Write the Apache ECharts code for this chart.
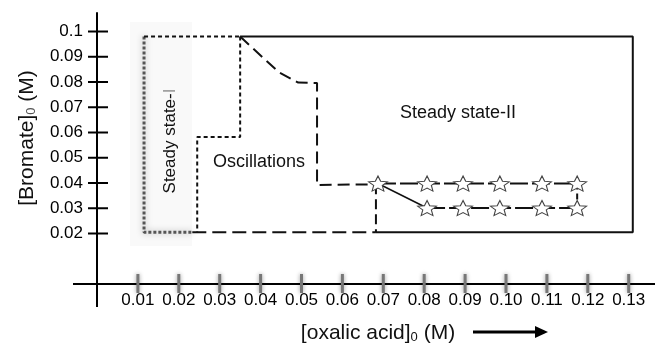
<!DOCTYPE html>
<html>
<head>
<meta charset="utf-8">
<script src="https://cdn.jsdelivr.net/npm/echarts@6/dist/echarts.min.js"></script>
<style>
  html, body { margin: 0; padding: 0; background: #fff; }
  #chart { width: 655px; height: 344px; }
</style>
</head>
<body>
<div id="chart"></div>
<script>
// tick values
const xTicks = [0.01, 0.02, 0.03, 0.04, 0.05, 0.06, 0.07, 0.08, 0.09, 0.10, 0.11, 0.12, 0.13];
const yTicks = [0.02, 0.03, 0.04, 0.05, 0.06, 0.07, 0.08, 0.09, 0.1];

// phase boundaries [oxalic acid, bromate]
const steadyILeft = [[0.0115, 0.098], [0.0115, 0.0205], [0.0233, 0.0205]];
const topDotted = [[0.0115, 0.098], [0.035, 0.098]];
const oscStep = [[0.035, 0.098], [0.035, 0.0582], [0.0245, 0.0582], [0.0245, 0.0205]];
const steadyIIEdge = [[0.035, 0.098], [0.0445, 0.0838], [0.0492, 0.0798], [0.0538, 0.0796], [0.0538, 0.0392], [0.0687, 0.0395]];
const bottomDashed = [[0.0233, 0.0205], [0.0682, 0.0205]];
const outerSolid = [[0.035, 0.098], [0.131, 0.098], [0.131, 0.0205], [0.0682, 0.0205]];
const dropLine = [[0.0682, 0.0395], [0.0682, 0.0205]];

// star points
const upperX = [0.0687, 0.0807, 0.0895, 0.0985, 0.1088, 0.1174];
const upperY = 0.0398;
const lowerX = [0.0807, 0.0895, 0.0985, 0.1088, 0.1174];
const lowerY = 0.0301;

const FONT = 'Liberation Sans, Arial, sans-serif';
const STAR = 'path://M10 0 L12.65 6.36 L19.51 6.91 L14.28 11.39 L15.88 18.09 L10 14.5 L4.12 18.09 L5.72 11.39 L0.49 6.91 L7.35 6.36 Z';

const chart = echarts.init(document.getElementById('chart'));

function boundary(data, color, type, width, extra) {
  return {
    type: 'line',
    data: data,
    symbol: 'none',
    silent: true,
    z: 3,
    lineStyle: Object.assign({ color: color, type: type, width: width }, extra || {})
  };
}

const upperPts = upperX.map(x => [x, upperY]);
const lowerPts = lowerX.map(x => [x, lowerY]);

chart.setOption({
  animation: false,
  backgroundColor: '#fff',
  grid: { left: 97, right: 0, top: 13, bottom: 60 },
  xAxis: {
    type: 'value',
    min: 0,
    max: 0.13643,
    axisLine: { lineStyle: { color: '#000', width: 2 } },
    axisTick: { show: false },
    splitLine: { show: false },
    axisLabel: {
      customValues: xTicks,
      formatter: v => v.toFixed(2),
      color: '#000',
      fontFamily: FONT,
      fontSize: 17,
      margin: 8
    }
  },
  yAxis: {
    type: 'value',
    min: 0,
    max: 0.10733,
    axisLine: { lineStyle: { color: '#000', width: 2 } },
    axisTick: { show: false },
    splitLine: { show: false },
    axisLabel: {
      customValues: yTicks,
      formatter: v => (v === 0.1 ? '0.1' : v.toFixed(2)),
      color: '#000',
      fontFamily: FONT,
      fontSize: 17,
      margin: 14
    }
  },
  graphic: [
    // axis lines carry on past the origin
    { type: 'line', shape: { x1: 73, y1: 284, x2: 97, y2: 284 }, style: { stroke: '#000', lineWidth: 2 } },
    { type: 'line', shape: { x1: 97, y1: 284, x2: 97, y2: 307 }, style: { stroke: '#000', lineWidth: 2 } },
    { type: 'rect', shape: { x: 130, y: 22, width: 62, height: 224 }, style: { fill: '#f9f9f9' }, z: -1, silent: true },
    {
      type: 'text', x: 170, y: 141, rotation: Math.PI / 2,
      style: {
        text: '{a|Steady state-}{g|I}', align: 'center', verticalAlign: 'middle',
        rich: {
          a: { fontFamily: FONT, fontSize: 17, fill: '#111' },
          g: { fontFamily: FONT, fontSize: 17, fill: '#999' }
        }
      }
    },
    {
      type: 'text', x: 259, y: 162,
      style: { text: 'Oscillations', font: '18px ' + FONT, fill: '#111', align: 'center', verticalAlign: 'middle' }
    },
    {
      type: 'text', x: 458, y: 113,
      style: { text: 'Steady state-II', font: '18px ' + FONT, fill: '#111', align: 'center', verticalAlign: 'middle' }
    },
    {
      type: 'text', x: 26, y: 138, rotation: Math.PI / 2,
      style: {
        text: '{a|[Bromate]}{s|0}{a| (M)}', align: 'center', verticalAlign: 'middle',
        rich: {
          a: { fontFamily: FONT, fontSize: 21, fill: '#111', lineHeight: 24, verticalAlign: 'bottom' },
          s: { fontFamily: FONT, fontSize: 13, fill: '#555', lineHeight: 24, verticalAlign: 'bottom', padding: [10, 0, 0, 0] }
        }
      }
    },
    {
      type: 'text', x: 378, y: 332,
      style: {
        text: '{a|[oxalic acid]}{s|0}{a| (M)}', align: 'center', verticalAlign: 'middle',
        rich: {
          a: { fontFamily: FONT, fontSize: 21, fill: '#111', lineHeight: 24, verticalAlign: 'bottom' },
          s: { fontFamily: FONT, fontSize: 13, fill: '#111', lineHeight: 24, verticalAlign: 'bottom', padding: [10, 0, 0, 0] }
        }
      }
    },
    { type: 'line', shape: { x1: 473, y1: 332, x2: 540, y2: 332 }, style: { stroke: '#000', lineWidth: 3 } },
    { type: 'polygon', shape: { points: [[535, 326], [548, 332], [535, 338]] }, style: { fill: '#000' } }
  ],
  series: [
    // y ticks crossing the axis
    {
      type: 'custom',
      silent: true,
      clip: false,
      z: 5,
      data: yTicks.map(v => [0, v]),
      renderItem: (params, api) => {
        const p = api.coord([api.value(0), api.value(1)]);
        return { type: 'line', shape: { x1: p[0] - 9, y1: p[1], x2: p[0] + 11, y2: p[1] }, style: { stroke: '#000', lineWidth: 2 } };
      }
    },
    // blurred x ticks
    {
      type: 'custom',
      silent: true,
      clip: false,
      z: 5,
      data: xTicks.map(v => [v, 0]),
      renderItem: (params, api) => {
        const p = api.coord([api.value(0), api.value(1)]);
        return {
          type: 'line',
          shape: { x1: p[0], y1: p[1] - 10, x2: p[0], y2: p[1] + 9 },
          style: { stroke: '#777', lineWidth: 3, shadowBlur: 4, shadowColor: 'rgba(0,0,0,0.4)' }
        };
      }
    },
    boundary(steadyILeft, '#555', [3, 2], 3, { shadowBlur: 6, shadowColor: 'rgba(0,0,0,0.35)' }),
    boundary(topDotted, '#111', [4, 3], 2),
    boundary(oscStep, '#111', [4, 3], 2),
    boundary(steadyIIEdge, '#111', [12, 6], 2),
    boundary(bottomDashed, '#111', [14, 6], 2),
    boundary(outerSolid, '#111', 'solid', 2),
    boundary(dropLine, '#111', [10, 5], 2),
    boundary([upperPts[0], lowerPts[0]], '#111', 'solid', 1.5),
    boundary([upperPts[upperPts.length - 1], lowerPts[lowerPts.length - 1]], '#111', [6, 4], 2),
    {
      type: 'line',
      data: upperPts,
      symbol: STAR,
      symbolSize: [19, 15],
      showAllSymbol: true,
      z: 4,
      lineStyle: { color: '#111', type: [18, 4], width: 2 },
      itemStyle: { color: '#fff', borderColor: '#444', borderWidth: 1 }
    },
    {
      type: 'line',
      data: lowerPts,
      symbol: STAR,
      symbolSize: [19, 15],
      showAllSymbol: true,
      z: 4,
      lineStyle: { color: '#111', type: [18, 4], width: 2 },
      itemStyle: { color: '#fff', borderColor: '#444', borderWidth: 1 }
    }
  ]
});
</script>
</body>
</html>
